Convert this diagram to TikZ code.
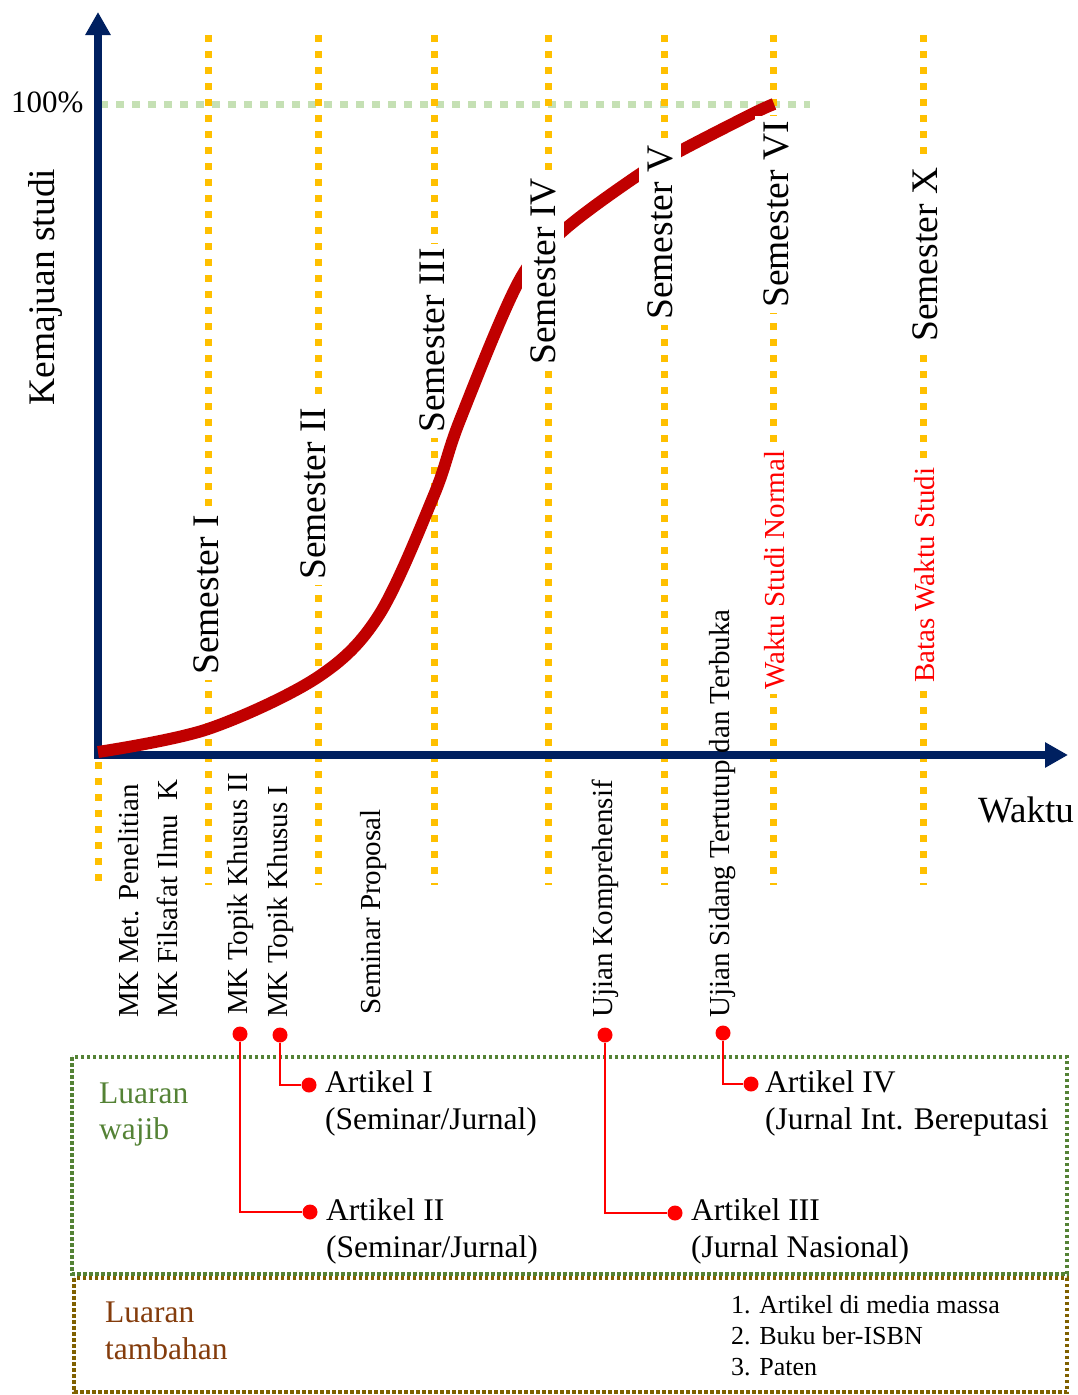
\documentclass[tikz,border=0pt]{standalone}
\usepackage{fontspec}
\setmainfont{Liberation Serif}
\usepackage{xcolor}
\usepackage{tikz}
\usetikzlibrary{arrows.meta, positioning}

\definecolor{axisblue}{HTML}{002060}
\definecolor{semorange}{HTML}{FFC000}
\definecolor{fullgreen}{HTML}{C5E0B4}
\definecolor{curvered}{HTML}{C00000}
\definecolor{wajibgreen}{HTML}{548235}
\definecolor{tambahbrown}{HTML}{7F6000}
\definecolor{tambahtext}{HTML}{843C0C}

\begin{document}
\begin{tikzpicture}[x=1pt, y=-1pt,
    semline/.style={semorange, line width=7pt, dash pattern=on 7pt off 9pt},
    semlabel/.style={rotate=90, anchor=west, fill=white, inner xsep=5pt, inner ysep=8pt, font=\fontsize{37.5}{45}\selectfont},
    limitlabel/.style={rotate=90, anchor=west, fill=white, text=red, inner sep=4pt, font=\fontsize{29}{35}\selectfont},
    eventlabel/.style={rotate=90, anchor=west, inner sep=0pt, font=\fontsize{29}{35}\selectfont},
    reddot/.style={circle, fill=red, minimum size=15pt, inner sep=0pt},
    link/.style={red, line width=2pt},
    outtext/.style={anchor=north west, inner sep=0pt, align=left, font=\fontsize{31.5}{37}\selectfont}]
    \useasboundingbox (0,0) rectangle (1078,1395);

    % 100% line
    \draw[fullgreen, line width=7pt, dash pattern=on 8pt off 8pt] (100,104) -- (810,104);
    \node[anchor=base west, inner sep=0pt, font=\fontsize{31}{37}\selectfont] (full) at (11,112) {100\%};

    % Semester lines
    \foreach \x in {208,318,434,548,664,773,923}
        \draw[semline] (\x,35) -- (\x,885);
    \draw[semline] (98,762) -- (98,885);

    % Axes
    \coordinate (O) at (98,755);
    \coordinate (ytop) at (98,12);
    \coordinate (xend) at (1068,755);
    \draw[axisblue, line width=7.5pt, line join=miter, {Triangle[length=23pt,width=24pt]}-{Triangle[length=23pt,width=24pt]}] (ytop) -- (O) -- (xend);
    \node[rotate=90, inner sep=0pt, font=\fontsize{37.5}{45}\selectfont] (ylab) at (45.5,287) {Kemajuan studi};
    \node[anchor=base west, inner sep=0pt, font=\fontsize{37}{45}\selectfont] (xlab) at (978,822) {Waktu};

    % Semester labels
    \node[semlabel] (S1) at (206,680) {Semester I};
    \node[semlabel] (S2) at (313,585) {Semester II};
    \node[semlabel] (S3) at (432,438) {Semester III};

    % Study progress
    \draw[curvered, line width=12pt] plot[smooth, tension=0.55] coordinates {(98,752) (208,729) (318,677) (379,615) (434,495) (460,420) (519,281) (564,230) (637,176) (680,151) (752,114) (774,104)};

    \node[semlabel] (S4) at (543,370) {Semester IV};
    \node[semlabel] (S5) at (660,325) {Semester V};
    \node[semlabel] (S6) at (776,313) {Semester VI};
    \node[semlabel] (S10) at (925,347) {Semester X};

    % Study time limits
    \node[limitlabel] (normal) at (774.5,694) {Waktu Studi Normal};
    \node[limitlabel] (batas) at (924.5,687) {Batas Waktu Studi};

    % Events along the time axis
    \node[eventlabel] (e1) at (128.5,1018) {MK Met. Penelitian};
    \node[eventlabel] (e2) at (167,1018) {MK Filsafat Ilmu\ \ K};
    \node[eventlabel] (e3) at (241,1015) {MK Topik Khusus II};
    \node[eventlabel] (e4) at (280.5,1018) {MK Topik Khusus I};
    \node[eventlabel] (e5) at (373.5,1015) {Seminar Proposal};
    \node[eventlabel] (e6) at (605.5,1018) {Ujian Komprehensif};
    \node[eventlabel] (e7) at (723,1018) {Ujian Sidang Tertutup dan Terbuka};

    % Output boxes
    \draw[wajibgreen, line width=3.5pt, dash pattern=on 3.5pt off 2.5pt] (72,1057) rectangle (1067,1274);
    \draw[tambahbrown, line width=3.5pt, dash pattern=on 3.5pt off 2.5pt] (74,1278) rectangle (1067,1392);
    \node[outtext, text=wajibgreen, font=\fontsize{31.5}{36}\selectfont] (wajib) at (99,1083) {Luaran\\wajib};
    \node[outtext, text=tambahtext, font=\fontsize{31.5}{37}\selectfont] (tambah) at (105,1302) {Luaran\\tambahan};
    \node[outtext, font=\fontsize{26}{31}\selectfont] (extra) at (731,1295) {1. Artikel di media massa\\2. Buku ber-ISBN\\3. Paten};

    % Articles
    \node[reddot] (m2) at (240,1034) {};
    \node[reddot] (m1) at (280,1035) {};
    \node[reddot] (m3) at (605,1035) {};
    \node[reddot] (m4) at (723,1033) {};
    \node[reddot] (p1) at (309,1085) {};
    \node[reddot] (p2) at (310,1212) {};
    \node[reddot] (p3) at (675,1213) {};
    \node[reddot] (p4) at (751,1084) {};
    \draw[link] (m1) |- (p1);
    \draw[link] (m2) |- (p2);
    \draw[link] (m3) |- (p3);
    \draw[link] (m4) |- (p4);
    \node[outtext] (a1) at (325,1070.5) {Artikel I\\(Seminar/Jurnal)};
    \node[outtext] (a2) at (326,1198.5) {Artikel II\\(Seminar/Jurnal)};
    \node[outtext] (a3) at (691,1198.5) {Artikel III\\(Jurnal Nasional)};
    \node[outtext] (a4) at (765,1070.5) {Artikel IV\\(Jurnal Int. Bereputasi};
\end{tikzpicture}
\end{document}
